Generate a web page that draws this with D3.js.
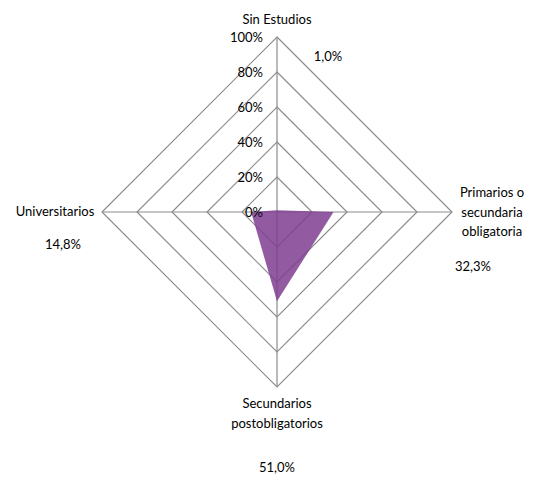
<!DOCTYPE html>
<html>
<head>
<meta charset="utf-8">
<script src="https://cdn.jsdelivr.net/npm/d3@7"></script>
<style>
  body { margin: 0; background: #fff; }
  text { font-family: Lato, "Open Sans", sans-serif; font-size: 13px; fill: #000; }
</style>
</head>
<body>
<svg width="535" height="479"></svg>
<script>
// categories clockwise from top
var categories = [["Sin Estudios"], ["Primarios o", "secundaria", "obligatoria"], ["Secundarios", "postobligatorios"], ["Universitarios"]];
var values = [1.0, 32.3, 51.0, 14.8];
var valueLabels = ["1,0%", "32,3%", "51,0%", "14,8%"];
var ticks = [0, 20, 40, 60, 80, 100];

var svg = d3.select("svg");
var cx = 277, cy = 212, radius = 175;

var r = d3.scaleLinear().domain([0, 100]).range([0, radius]);
var angle = d3.scaleLinear().domain([0, categories.length]).range([0, 2 * Math.PI]);

function pt(i, v) {
  var a = angle(i);
  return [cx + r(v) * Math.sin(a), cy - r(v) * Math.cos(a)];
}

var g = svg.append("g");

// rings
ticks.slice(1).forEach(function(t) {
  g.append("path")
    .attr("d", d3.line()(categories.map(function(c, i) { return pt(i, t); })) + "Z")
    .attr("fill", "none")
    .attr("stroke", "#8c8c8c")
    .attr("stroke-width", 1.2);
});

// spokes
categories.forEach(function(c, i) {
  var p = pt(i, 100);
  g.append("line")
    .attr("x1", cx).attr("y1", cy)
    .attr("x2", p[0]).attr("y2", p[1])
    .attr("stroke", "#8c8c8c")
    .attr("stroke-width", 1.2);
});

// data area
g.append("path")
  .attr("d", d3.line()(values.map(function(v, i) { return pt(i, v); })) + "Z")
  .attr("fill", "#7f3d90")
  .attr("fill-opacity", 0.85);

// tick labels
ticks.forEach(function(t) {
  g.append("text")
    .attr("x", cx - 14)
    .attr("y", cy - r(t))
    .attr("dy", "0.35em")
    .attr("text-anchor", "end")
    .text(t + "%");
});

// category labels
var catPos = [[277, 24], [492, 197], [277, 408], [55, 216]];
categories.forEach(function(lines, i) {
  var t = g.append("text").attr("text-anchor", "middle");
  lines.forEach(function(l, k) {
    t.append("tspan").attr("x", catPos[i][0]).attr("y", catPos[i][1] + k * 19.5).text(l);
  });
});

// value labels
var valPos = [[328, 61], [473, 271], [277, 472], [63, 249]];
valueLabels.forEach(function(l, i) {
  g.append("text")
    .attr("x", valPos[i][0]).attr("y", valPos[i][1])
    .attr("text-anchor", "middle")
    .text(l);
});
</script>
</body>
</html>
